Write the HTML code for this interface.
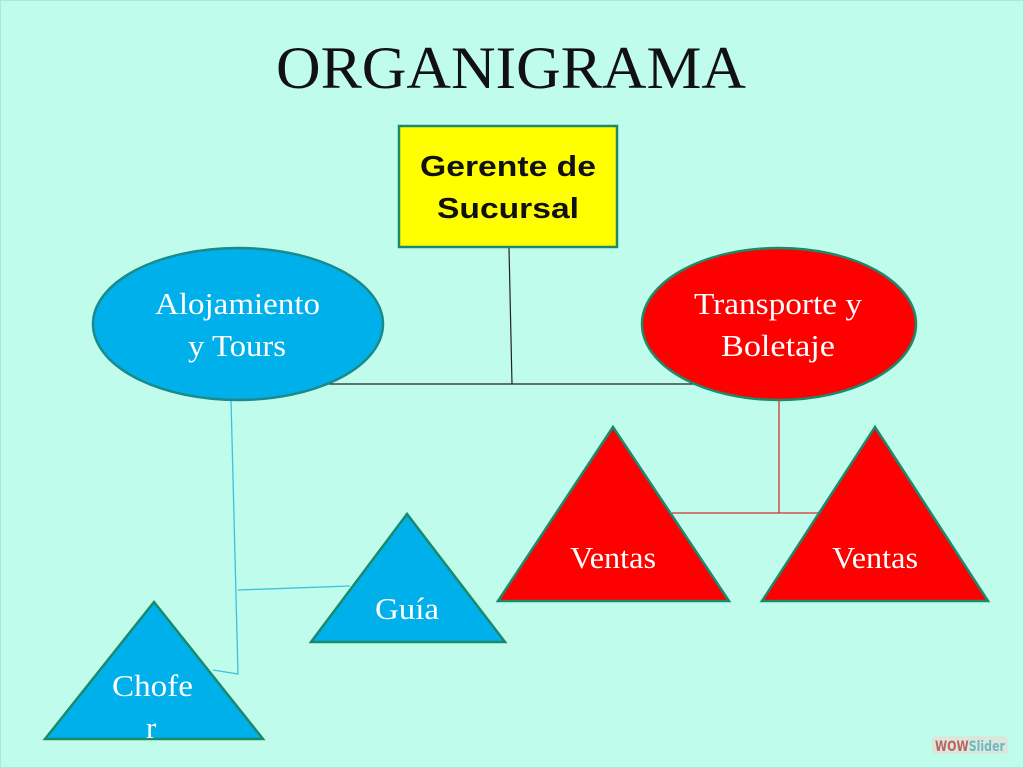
<!DOCTYPE html>
<html><head><meta charset="utf-8"><style>
html,body{margin:0;padding:0;width:1024px;height:768px;overflow:hidden;background:#c0fcec}
</style></head><body>
<svg width="1024" height="768" viewBox="0 0 1024 768" xmlns="http://www.w3.org/2000/svg">
<rect x="0" y="0" width="1024" height="768" fill="#c0fcec"/>
<rect x="0.5" y="0.5" width="1023" height="767" fill="none" stroke="#a8e8dc" stroke-width="1"/>
<text x="276" y="88" textLength="470" lengthAdjust="spacingAndGlyphs" font-family="Liberation Serif, serif" font-size="60" fill="#111">ORGANIGRAMA</text>

<g stroke="#222" stroke-width="1.2" fill="none">
<line x1="509" y1="248" x2="512" y2="384"/>
<line x1="327" y1="384" x2="705" y2="384"/>
</g>
<g stroke="#3cc0e0" stroke-width="1.3" fill="none">
<polyline points="231,400 238,674 213,670"/>
<line x1="238" y1="590" x2="350" y2="586"/>
</g>
<g stroke="#d83030" stroke-width="1.3" fill="none">
<line x1="779" y1="400" x2="779" y2="513"/>
<line x1="672" y1="513" x2="820" y2="513"/>
</g>

<rect x="399" y="126" width="218" height="121" fill="#ffff00" stroke="#1a8a6a" stroke-width="2.5"/>
<g font-family="Liberation Sans, sans-serif" font-weight="bold" font-size="29" fill="#111">
<text x="420" y="176" textLength="176" lengthAdjust="spacingAndGlyphs">Gerente de</text>
<text x="437" y="218" textLength="142" lengthAdjust="spacingAndGlyphs">Sucursal</text>
</g>

<ellipse cx="238" cy="324" rx="145" ry="76" fill="#00b0ea" stroke="#1a8a8a" stroke-width="2.5"/>
<ellipse cx="779" cy="324" rx="137" ry="76" fill="#ff0000" stroke="#1a8a6a" stroke-width="2.5"/>

<g stroke="#1a8a6a" stroke-width="2.5">
<polygon points="613,427 498,601 729,601" fill="#ff0000"/>
<polygon points="875,427 762,601 988,601" fill="#ff0000"/>
<polygon points="407,514 311,642 505,642" fill="#00b0ea"/>
<polygon points="154,602 45,739 263,739" fill="#00b0ea"/>
</g>
<g font-family="Liberation Serif, serif" font-size="31" fill="#fff">
<text x="155" y="314" textLength="165" lengthAdjust="spacingAndGlyphs">Alojamiento</text>
<text x="188" y="356" textLength="98" lengthAdjust="spacingAndGlyphs">y Tours</text>
<text x="694" y="314" textLength="168" lengthAdjust="spacingAndGlyphs">Transporte y</text>
<text x="721" y="356" textLength="114" lengthAdjust="spacingAndGlyphs">Boletaje</text>
<text x="570" y="568" textLength="86" lengthAdjust="spacingAndGlyphs">Ventas</text>
<text x="832" y="568" textLength="86" lengthAdjust="spacingAndGlyphs">Ventas</text>
<text x="375" y="619" textLength="64" lengthAdjust="spacingAndGlyphs">Guía</text>
<text x="112" y="696" textLength="81" lengthAdjust="spacingAndGlyphs">Chofe</text>
<text x="146" y="738">r</text>
</g>

<rect x="932" y="736" width="76" height="18" rx="4" fill="#d8e8dc"/>
<text x="935" y="751" textLength="70" lengthAdjust="spacingAndGlyphs" font-family="DejaVu Sans Condensed, DejaVu Sans, sans-serif" font-weight="bold" font-size="14" fill="#c06060">WOW<tspan fill="#70b8c0">Slider</tspan></text>
</svg>
</body></html>
